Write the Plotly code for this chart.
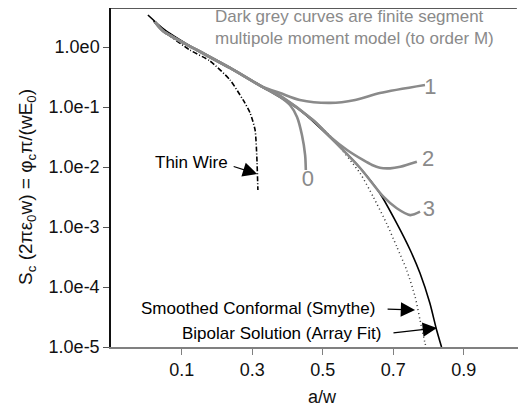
import plotly.graph_objects as go

# ---- data ----
bipolar_x = [0.004, 0.052, 0.143, 0.237, 0.330, 0.435, 0.549, 0.606, 0.662, 0.710, 0.748, 0.776, 0.804, 0.823, 0.837]
bipolar_y = [3.41, 1.92, 0.891, 0.447, 0.215, 0.0891, 0.0215, 0.00962, 0.00365, 0.00115, 0.000414, 0.000169,
             5.35e-5, 1.92e-5, 1.0e-5]

smythe_x = [0.435, 0.521, 0.606, 0.643, 0.681, 0.710, 0.738, 0.762, 0.776, 0.790, 0.793]
smythe_y = [0.0891, 0.0329, 0.00785, 0.0032, 0.00115, 0.00047, 0.000192, 6.89e-5, 2.82e-5, 1.17e-5, 1.0e-5]

thinwire_x = [0.020, 0.052, 0.123, 0.180, 0.237, 0.274, 0.294, 0.308, 0.313, 0.316]
thinwire_y = [2.69, 1.78, 0.891, 0.585, 0.282, 0.131, 0.0794, 0.0414, 0.0147, 0.00414]

m1_x = [0.024, 0.047, 0.143, 0.237, 0.330, 0.379, 0.435, 0.521, 0.592, 0.662, 0.790]
m1_y = [2.61, 1.85, 0.891, 0.447, 0.215, 0.171, 0.131, 0.117, 0.131, 0.171, 0.233]

m0_x = [0.024, 0.047, 0.143, 0.237, 0.330, 0.379, 0.407, 0.427, 0.441, 0.450, 0.452]
m0_y = [2.61, 1.85, 0.891, 0.447, 0.215, 0.147, 0.108, 0.0681, 0.0341, 0.0158, 0.00891]

m2_x = [0.024, 0.047, 0.143, 0.237, 0.330, 0.379, 0.472, 0.521, 0.569, 0.614, 0.640, 0.662, 0.691, 0.720, 0.767]
m2_y = [2.61, 1.85, 0.891, 0.447, 0.215, 0.153, 0.0607, 0.032, 0.0192, 0.0131, 0.0108, 0.0097, 0.0095,
        0.0101, 0.01225]

m3_x = [0.024, 0.047, 0.143, 0.237, 0.330, 0.379, 0.472, 0.549, 0.606, 0.672, 0.710, 0.748, 0.776]
m3_y = [2.61, 1.85, 0.891, 0.447, 0.215, 0.153, 0.0607, 0.0215, 0.00962, 0.0032, 0.00205, 0.00158, 0.0018]

order_labels = ["0", "1", "2", "3"]
order_label_x = [0.458, 0.805, 0.799, 0.801]
order_label_y = [0.00585, 0.207, 0.0126, 0.00185]

x_tickvals = [0.1, 0.3, 0.5, 0.7, 0.9]
x_ticktext = ["0.1", "0.3", "0.5", "0.7", "0.9"]
y_tickvals = [1, 0.1, 0.01, 0.001, 0.0001, 0.00001]
y_ticktext = ["1.0e0", "1.0e-1", "1.0e-2", "1.0e-3", "1.0e-4", "1.0e-5"]

FONT = "Arial, Liberation Sans, sans-serif"
GREY = "#8a8a8a"

fig = go.Figure()

fig.add_trace(go.Scatter(x=bipolar_x, y=bipolar_y, mode="lines",
                         line=dict(color="black", width=1.6, shape="spline", smoothing=0.6)))
fig.add_trace(go.Scatter(x=smythe_x, y=smythe_y, mode="lines",
                         line=dict(color="#333333", width=1.5, dash="1px,3px", shape="spline", smoothing=0.6)))
fig.add_trace(go.Scatter(x=thinwire_x, y=thinwire_y, mode="lines",
                         line=dict(color="black", width=1.6, dash="5px,2px,1px,2px", shape="spline", smoothing=0.6)))
for mx, my in [(m0_x, m0_y), (m1_x, m1_y), (m2_x, m2_y), (m3_x, m3_y)]:
    fig.add_trace(go.Scatter(x=mx, y=my, mode="lines",
                             line=dict(color=GREY, width=2.6, shape="spline", smoothing=0.8)))

fig.add_trace(go.Scatter(x=order_label_x, y=order_label_y, mode="text", text=order_labels,
                         textfont=dict(family=FONT, size=22, color=GREY),
                         textposition="middle center"))

annotations = [
    # top note
    dict(x=0.189, y=0.317, xref="x", yref="y", xanchor="left", yanchor="middle", align="left",
         text="Dark grey curves are finite segment<br>multipole moment model (to order M)",
         showarrow=False, font=dict(family=FONT, size=17, color=GREY)),
    # Thin wire
    dict(x=0.237, y=-1.933, xref="x", yref="y", xanchor="right", yanchor="middle",
         text="Thin Wire", showarrow=False, font=dict(family=FONT, size=17, color="black")),
    dict(x=0.314, y=-2.117, xref="x", yref="y", ax=-25, ay=-8, text="", showarrow=True,
         arrowhead=2, arrowsize=2.2, arrowwidth=1.3, arrowcolor="black"),
    # Smythe
    dict(x=0.654, y=-4.35, xref="x", yref="y", xanchor="right", yanchor="middle",
         text="Smoothed Conformal (Smythe)", showarrow=False, font=dict(family=FONT, size=17, color="black")),
    dict(x=0.762, y=-4.383, xref="x", yref="y", ax=-29, ay=-1, text="", showarrow=True,
         arrowhead=2, arrowsize=2.2, arrowwidth=1.3, arrowcolor="black"),
    # Bipolar
    dict(x=0.671, y=-4.783, xref="x", yref="y", xanchor="right", yanchor="middle",
         text="Bipolar Solution (Array Fit)", showarrow=False, font=dict(family=FONT, size=17, color="black")),
    dict(x=0.824, y=-4.683, xref="x", yref="y", ax=-45, ay=5, text="", showarrow=True,
         arrowhead=2, arrowsize=2.2, arrowwidth=1.3, arrowcolor="black"),
    # axis titles
    dict(x=0.5, y=-0.1475, xref="x", yref="paper", xanchor="center", yanchor="middle",
         text="a/w", showarrow=False, font=dict(family=FONT, size=18, color="#111")),
    dict(x=-0.2024, y=0.472, xref="paper", yref="paper", xanchor="center", yanchor="middle",
         textangle=-90,
         text="S<sub>c</sub> (2πε<sub>0</sub>w) = φ<sub>c</sub>π/(wE<sub>0</sub>)",
         showarrow=False, font=dict(family=FONT, size=19, color="#111")),
]

# the page body has an 8px default margin, so the figure is sized/offset to compensate
fig.update_layout(
    width=518, height=405,
    margin=dict(l=103, r=0, t=0, b=66),
    paper_bgcolor="white", plot_bgcolor="white",
    showlegend=False,
    font=dict(family=FONT, size=18, color="#111"),
    annotations=annotations,
    shapes=[dict(type="line", xref="paper", yref="paper", x0=0, x1=0.978, y0=1, y1=1,
                 line=dict(color="#222", width=1.5))],
)
fig.update_xaxes(range=[-0.1007, 1.0766], tickvals=x_tickvals, ticktext=x_ticktext,
                 showgrid=False, zeroline=False, showline=True, linecolor="#808080", linewidth=1.5,
                 ticks="outside", ticklen=6, tickcolor="#808080", tickwidth=1.2,
                 tickfont=dict(family=FONT, size=18, color="#111"))
fig.update_yaxes(type="log", range=[-5, 0.65], tickvals=y_tickvals, ticktext=y_ticktext,
                 showgrid=False, zeroline=False, showline=True, linecolor="#111", linewidth=1.5,
                 ticks="outside", ticklen=6, tickcolor="#555", tickwidth=1.2,
                 tickfont=dict(family=FONT, size=18, color="#111"))

fig.write_html("out.html")
